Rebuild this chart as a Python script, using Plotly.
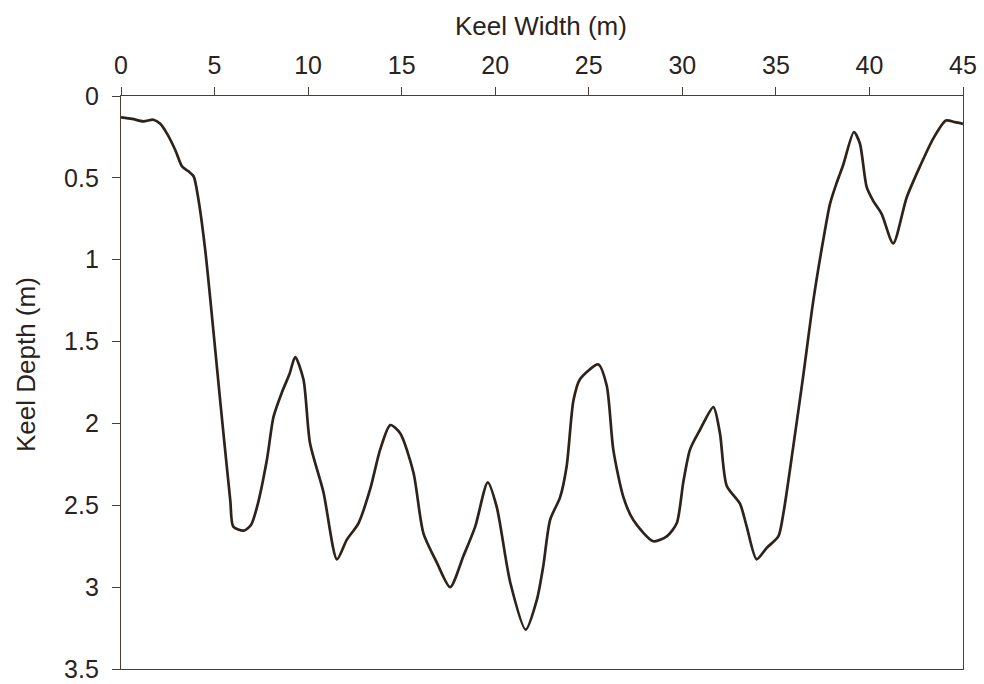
import plotly.graph_objects as go

# Keel cross-section profile: width across the keel (m) vs depth below waterline (m)
keel_width_m = [0.0, 0.6, 1.2, 1.73, 2.1, 2.46, 2.9, 3.26, 3.6, 3.88, 4.15, 4.5, 4.78,
                5.3, 5.84, 6.0, 6.55, 6.95, 7.27, 7.8, 8.15, 8.6, 9.0, 9.31, 9.75, 10.1,
                10.82, 11.54, 12.07, 12.69, 13.32, 13.85, 14.39, 14.92, 15.63, 16.16,
                16.88, 17.59, 18.3, 18.93, 19.6, 20.08, 20.8, 21.63, 22.22, 22.57, 22.93,
                23.47, 23.82, 24.18, 24.53, 25.51, 25.96, 26.31, 26.85, 27.38, 28.45,
                29.17, 29.7, 30.05, 30.41, 30.94, 31.66, 32.01, 32.37, 33.08, 33.44,
                33.97, 34.51, 35.13, 35.4, 35.93, 36.46, 37.0, 37.53, 37.89, 38.25, 38.6,
                39.17, 39.49, 39.85, 40.2, 40.65, 41.27, 41.99, 42.7, 43.41, 44.09,
                44.57, 45.0]
keel_depth_m = [0.13, 0.14, 0.155, 0.145, 0.17, 0.23, 0.33, 0.43, 0.46, 0.49, 0.64, 0.94,
                1.25, 1.86, 2.47, 2.63, 2.655, 2.62, 2.51, 2.22, 1.96, 1.81, 1.7, 1.595,
                1.73, 2.12, 2.42, 2.83, 2.71, 2.61, 2.40, 2.16, 2.01, 2.06, 2.30, 2.67,
                2.85, 3.0, 2.81, 2.63, 2.36, 2.51, 2.97, 3.26, 3.08, 2.87, 2.59, 2.45,
                2.26, 1.86, 1.73, 1.64, 1.77, 2.16, 2.45, 2.59, 2.72, 2.69, 2.61, 2.36,
                2.16, 2.04, 1.90, 2.06, 2.38, 2.49, 2.63, 2.83, 2.76, 2.69, 2.55, 2.14,
                1.71, 1.25, 0.88, 0.66, 0.53, 0.42, 0.22, 0.29, 0.555, 0.64, 0.72, 0.90,
                0.62, 0.43, 0.26, 0.15, 0.16, 0.17]

x_ticks = [0, 5, 10, 15, 20, 25, 30, 35, 40, 45]
y_ticks = [0, 0.5, 1, 1.5, 2, 2.5, 3, 3.5]
y_tick_text = ["0", "0.5", "1", "1.5", "2", "2.5", "3", "3.5"]

AXIS_COLOR = "#4a3f36"
TEXT_COLOR = "#2a231d"
LINE_COLOR = "#2d231b"
FONT = "Liberation Sans, Arial, sans-serif"

W, H = 984, 684
M_L, M_R, M_T, M_B = 121, 21, 96, 15
plot_w = W - M_L - M_R
plot_h = H - M_T - M_B

fig = go.Figure(
    go.Scatter(
        x=keel_width_m,
        y=keel_depth_m,
        mode="lines",
        line=dict(color=LINE_COLOR, width=2.7, shape="spline", smoothing=0.7),
        hoverinfo="skip",
    )
)

axis_common = dict(
    automargin=False,
    showline=True,
    linecolor=AXIS_COLOR,
    linewidth=1.4,
    mirror=True,
    showgrid=False,
    zeroline=False,
    ticks="outside",
    ticklen=8,
    tickwidth=1.4,
    tickcolor=AXIS_COLOR,
    tickfont=dict(family=FONT, size=25, color=TEXT_COLOR),
)

fig.update_xaxes(
    side="top",
    range=[0, 45],
    tickvals=x_ticks,
    ticktext=[str(v) for v in x_ticks],
    ticklabelstandoff=3,
    **axis_common,
)
fig.update_yaxes(
    range=[3.5, 0],
    tickvals=y_ticks,
    ticktext=y_tick_text,
    ticklabelstandoff=8,
    **axis_common,
)

# axis titles, placed in pixel terms relative to the plot area
fig.add_annotation(
    text="Keel Width (m)",
    x=(541 - M_L) / plot_w, y=1 + (M_T - 26) / plot_h,
    xref="paper", yref="paper", xanchor="center", yanchor="middle",
    showarrow=False, font=dict(family=FONT, size=26, color=TEXT_COLOR),
)
fig.add_annotation(
    text="Keel Depth (m)",
    x=(26 - M_L) / plot_w, y=(H - M_B - 365) / plot_h,
    xref="paper", yref="paper", xanchor="center", yanchor="middle",
    textangle=-90, showarrow=False, font=dict(family=FONT, size=26, color=TEXT_COLOR),
)

fig.update_layout(
    width=W,
    height=H,
    margin=dict(l=M_L, r=M_R, t=M_T, b=M_B),
    paper_bgcolor="white",
    plot_bgcolor="white",
    showlegend=False,
)

fig.write_html("out.html")
